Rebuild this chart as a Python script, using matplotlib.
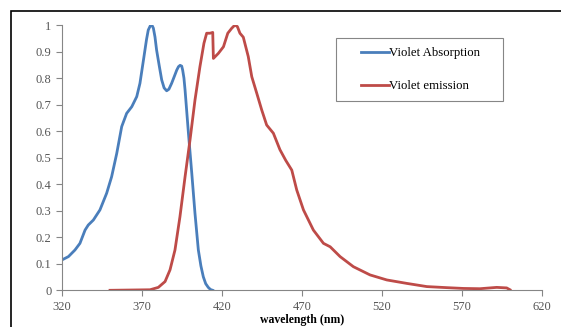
import matplotlib
matplotlib.use('Agg')
import matplotlib.pyplot as plt
from matplotlib.patches import Rectangle

# absorption spectrum
abs_wl = [320, 324.2, 328.3, 331.4, 334.6, 336.6, 339.8, 343.9, 348.1, 351.2, 354.4,
          357.5, 360.6, 363.8, 366.9, 368.9, 371.4, 373.0, 374.1, 375.6, 376.6, 377.3,
          378.3, 379.3, 381.0, 382.5, 384.0, 385.6, 387.0, 388.7, 390.5, 391.9, 393.0,
          394, 395.0, 395.6, 396.4, 397.1, 399.2, 401.3, 403.3, 405.4, 407.0, 408.5,
          410.0, 411.6, 413.0, 414.4]
abs_val = [0.114, 0.127, 0.152, 0.177, 0.227, 0.246, 0.265, 0.303, 0.366, 0.428, 0.516,
           0.617, 0.667, 0.692, 0.73, 0.78, 0.88, 0.945, 0.981, 1.0, 0.997, 0.988,
           0.955, 0.906, 0.845, 0.793, 0.763, 0.752, 0.758, 0.78, 0.808, 0.83, 0.843,
           0.848, 0.845, 0.83, 0.80, 0.755, 0.593, 0.441, 0.29, 0.152, 0.092, 0.051,
           0.025, 0.011, 0.003, 0.0]

# emission spectrum
em_wl = [350.2, 375.2, 380.4, 384.6, 387.7, 390.8, 393.9, 397.1, 400.2, 403.3, 406.4,
         408.9, 410.6, 412.7, 414.4, 414.8, 417.9, 421.1, 423.8, 426.3, 428.3, 429.8,
         431.4, 433.5, 436.6, 438.8, 441.9, 445, 448.1, 452.3, 456.4, 460, 463.8,
         466.9, 471.1, 477.3, 483.6, 487.8, 494, 502.3, 512.7, 523.2, 535.7, 548.2,
         560.7, 571.1, 581.4, 591.9, 598.1, 600.2]
em_val = [0.0, 0.002, 0.011, 0.033, 0.077, 0.152, 0.277, 0.428, 0.567, 0.717, 0.843,
          0.931, 0.969, 0.969, 0.972, 0.874, 0.893, 0.918, 0.969, 0.988, 1.0, 0.994,
          0.969, 0.954, 0.881, 0.805, 0.743, 0.68, 0.623, 0.592, 0.53, 0.49, 0.453,
          0.378, 0.303, 0.227, 0.177, 0.164, 0.127, 0.089, 0.058, 0.039, 0.026, 0.014,
          0.010, 0.007, 0.006, 0.011, 0.009, 0.002]

x_ticks = [320, 370, 420, 470, 520, 570, 620]
y_ticks = [0, 0.1, 0.2, 0.3, 0.4, 0.5, 0.6, 0.7, 0.8, 0.9, 1]
y_labels = ['0', '0.1', '0.2', '0.3', '0.4', '0.5', '0.6', '0.7', '0.8', '0.9', '1']

plt.rcParams['font.family'] = ['Liberation Serif', 'DejaVu Serif']

W, H = 561, 327
fig = plt.figure(figsize=(W / 100, H / 100), dpi=100)
ax = fig.add_axes([61.7 / W, 1 - 290.3 / H, 480 / W, 265.3 / H])

ax.plot(abs_wl, abs_val, color='#4A7EBB', lw=2.0, label='Violet Absorption',
        solid_joinstyle='round')
ax.plot(em_wl, em_val, color='#BE4B48', lw=2.0, label='Violet emission',
        solid_joinstyle='round')

ax.set_xlim(320, 620)
ax.set_ylim(0, 1)
ax.set_xticks(x_ticks)
ax.set_yticks(y_ticks)
ax.set_yticklabels(y_labels)
ax.tick_params(labelsize=9, colors='#868686', labelcolor='#555555', length=4, width=0.8)
for s in ['top', 'right']:
    ax.spines[s].set_visible(False)
for s in ['left', 'bottom']:
    ax.spines[s].set_color('#868686')
    ax.spines[s].set_linewidth(0.8)
ax.set_xlabel('wavelength (nm)', fontsize=8.5, fontweight='bold', labelpad=1.2)

# legend with a separate frame
fig.patches.append(Rectangle((336 / W, 1 - 101 / H), 167 / W, 63 / H,
                             transform=fig.transFigure, fill=False,
                             edgecolor='#868686', lw=0.8))
ax.legend(loc='upper left', bbox_to_anchor=(361 / W, 1 - 47 / H),
          bbox_transform=fig.transFigure, frameon=False, fontsize=9.2,
          handlelength=2.2, handletextpad=0.0, labelspacing=1.65, borderpad=0,
          borderaxespad=0)

# outer chart border
fig.patches.append(Rectangle((11 / W, -0.1), 1.2, 1 - 11 / H + 0.1,
                             transform=fig.transFigure, fill=False,
                             edgecolor='black', lw=1.2))

fig.savefig('out.png', dpi=100)
